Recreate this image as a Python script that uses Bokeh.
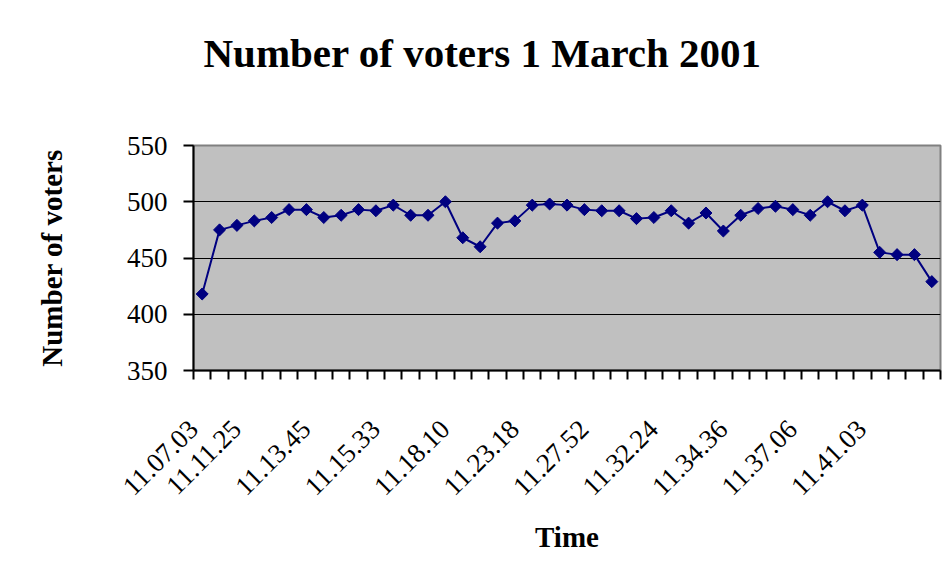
import numpy as np
from bokeh.plotting import figure
from bokeh.models import FixedTicker, Title
from bokeh.embed import file_html
from bokeh.resources import INLINE

# ---- data ----
voters = [418, 475, 479, 483, 486, 493, 493, 486, 488, 493, 492, 497, 488, 488, 500,
          468, 460, 481, 483, 497, 498, 497, 493, 492, 492, 485, 486, 492, 481, 490,
          474, 488, 494, 496, 493, 488, 500, 492, 497, 455, 453, 453, 429]
tick_labels = ["11.07.03", "11.11.25", "11.13.45", "11.15.33", "11.18.10", "11.23.18",
               "11.27.52", "11.32.24", "11.34.36", "11.37.06", "11.41.03"]
label_every = 4
title_text = "Number of voters 1 March 2001"
y_ticks = [350, 400, 450, 500, 550]

n = len(voters)
idx = list(range(n))
FONT = "Liberation Serif"

p = figure(width=947, height=583, x_range=(-0.5, n - 0.5), y_range=(350, 550),
           title=None, output_backend="svg", toolbar_location=None,
           min_border_left=193, min_border_right=7, min_border_top=145, min_border_bottom=213)

p.background_fill_color = "#C0C0C0"
p.border_fill_color = "white"
p.outline_line_color = "#808080"
p.outline_line_width = 2

# title (a blank spacer title sits between the frame and the real title)
p.add_layout(Title(text=" ", text_font_size="10px", standoff=52), "above")
p.add_layout(Title(text=title_text, align="left", offset=10, text_font=FONT,
                   text_font_size="41px", text_font_style="bold", text_color="black"),
             "above")

# grid
p.xgrid.visible = False
p.ygrid.ticker = FixedTicker(ticks=[400, 450, 500])
p.ygrid.grid_line_color = "black"
p.ygrid.grid_line_width = 1

# y axis
p.yaxis.ticker = FixedTicker(ticks=y_ticks)
p.yaxis.axis_line_color = "black"
p.yaxis.axis_line_width = 2
p.yaxis.major_tick_in = 0
p.yaxis.major_tick_out = 10
p.yaxis.major_tick_line_width = 2
p.yaxis.minor_tick_line_color = None
p.yaxis.major_label_standoff = 16
p.yaxis.major_label_text_font = FONT
p.yaxis.major_label_text_font_size = "27px"
p.yaxis.major_label_text_color = "black"
p.yaxis.axis_label = "Number of voters"
p.yaxis.axis_label_text_font = FONT
p.yaxis.axis_label_text_font_size = "29px"
p.yaxis.axis_label_text_font_style = "bold"
p.yaxis.axis_label_text_color = "black"
p.yaxis.axis_label_standoff = 56

# x axis: tick marks at category boundaries (minor), rotated labels (major, hidden ticks)
label_pos = [max(i * label_every - 2.03, -0.5) for i in range(len(tick_labels))]
p.xaxis.ticker = FixedTicker(ticks=label_pos, minor_ticks=[i - 0.5 for i in range(n + 1)])
p.xaxis.major_label_overrides = {pos: lab for pos, lab in zip(label_pos, tick_labels)}
p.xaxis.major_label_orientation = np.pi / 4
p.xaxis.major_label_text_font = FONT
p.xaxis.major_label_text_font_size = "27px"
p.xaxis.major_label_text_color = "black"
p.xaxis.major_label_standoff = 45
p.xaxis.axis_line_color = "black"
p.xaxis.axis_line_width = 2
p.xaxis.major_tick_line_color = None
p.xaxis.major_tick_in = 0
p.xaxis.major_tick_out = 0
p.xaxis.minor_tick_line_color = "black"
p.xaxis.minor_tick_line_width = 2
p.xaxis.minor_tick_in = 0
p.xaxis.minor_tick_out = 9
p.xaxis.axis_label = "Time"
p.xaxis.axis_label_text_font = FONT
p.xaxis.axis_label_text_font_size = "29px"
p.xaxis.axis_label_text_font_style = "bold"
p.xaxis.axis_label_text_color = "black"
p.xaxis.axis_label_standoff = 15

# series
p.line(idx, voters, line_color="#000080", line_width=2)
p.scatter(idx, voters, marker="square", angle=np.pi / 4, size=8.5,
          fill_color="#000080", line_color="#000080")

open("out.html", "w").write(file_html(p, INLINE))
